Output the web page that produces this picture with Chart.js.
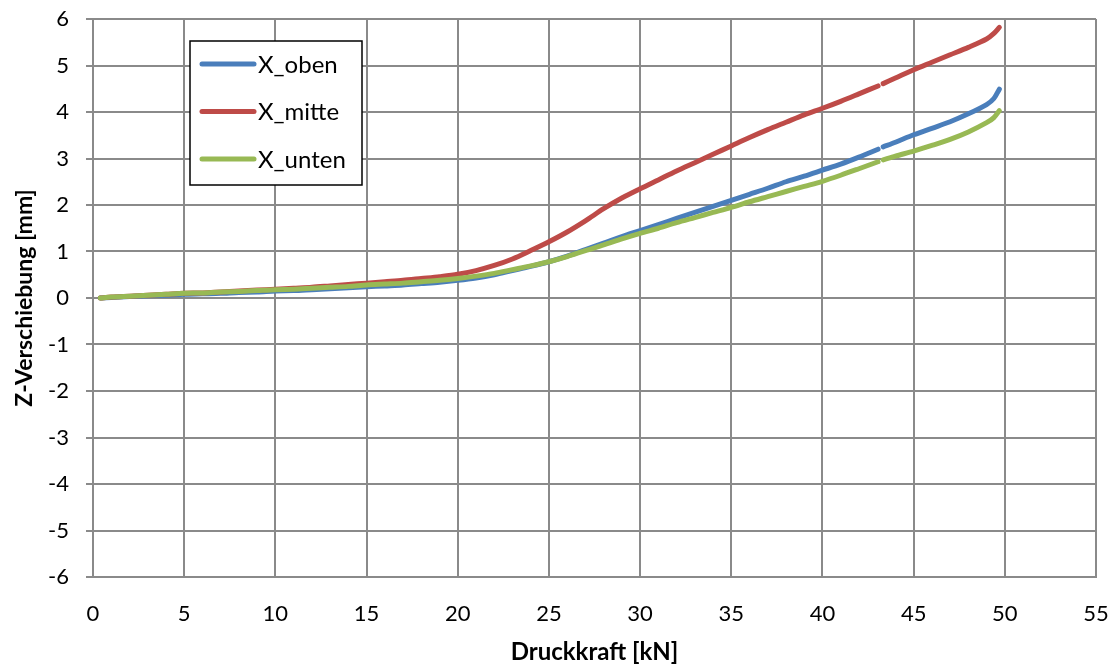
<!DOCTYPE html>
<html>
<head>
<meta charset="utf-8">
<script src="https://cdn.jsdelivr.net/npm/chart.js@4.4.1/dist/chart.umd.min.js"></script>
<style>
  html, body { margin: 0; padding: 0; background: #fff; }
  #wrap { width: 1116px; height: 668px; position: relative; }
</style>
</head>
<body>
<div id="wrap"><canvas id="c" width="1116" height="668"></canvas></div>
<script>
// Druckkraft [kN]; the null entry in each series marks the short recording gap near 43 kN
const force = [0.4, 1, 2, 3, 4, 5, 6, 7, 8, 9, 10, 11, 12, 13, 14, 15, 16, 17, 18, 19,
  20, 21, 22, 23, 24, 25, 26, 27, 28, 29, 30, 31, 32, 33, 34, 35, 36, 37, 38, 39,
  40, 41, 42, 43.05, 43.2, 43.33, 44, 45, 46, 47, 48, 49, 49.4, 49.7];

// Z-Verschiebung [mm]
const xOben = [0.00, 0.01, 0.03, 0.05, 0.06, 0.08, 0.09, 0.10, 0.12, 0.13, 0.15, 0.16, 0.18, 0.20, 0.22, 0.24, 0.26, 0.28, 0.31, 0.34,
  0.38, 0.43, 0.50, 0.59, 0.68, 0.78, 0.90, 1.04, 1.18, 1.32, 1.45, 1.58, 1.71, 1.84, 1.97, 2.10, 2.23, 2.36, 2.50, 2.62,
  2.75, 2.88, 3.03, 3.20, null, 3.25, 3.35, 3.51, 3.65, 3.79, 3.96, 4.16, 4.29, 4.49];

const xMitte = [0.00, 0.02, 0.04, 0.06, 0.08, 0.10, 0.11, 0.13, 0.15, 0.17, 0.19, 0.21, 0.23, 0.26, 0.29, 0.32, 0.35, 0.38, 0.42, 0.46,
  0.51, 0.59, 0.70, 0.84, 1.02, 1.21, 1.42, 1.66, 1.92, 2.15, 2.35, 2.54, 2.73, 2.91, 3.09, 3.27, 3.45, 3.62, 3.78, 3.94,
  4.08, 4.23, 4.39, 4.56, null, 4.61, 4.73, 4.91, 5.07, 5.23, 5.39, 5.57, 5.69, 5.82];

const xUnten = [0.00, 0.02, 0.04, 0.06, 0.08, 0.10, 0.11, 0.13, 0.14, 0.16, 0.18, 0.19, 0.21, 0.23, 0.25, 0.28, 0.30, 0.32, 0.35, 0.38,
  0.42, 0.47, 0.53, 0.61, 0.69, 0.78, 0.89, 1.02, 1.14, 1.27, 1.39, 1.50, 1.62, 1.73, 1.84, 1.95, 2.07, 2.18, 2.29, 2.40,
  2.51, 2.64, 2.78, 2.93, null, 2.97, 3.05, 3.16, 3.28, 3.41, 3.57, 3.77, 3.88, 4.03];

const seriesNames = ['X_oben', 'X_mitte', 'X_unten'];
const seriesColors = ['#4a7ebb', '#be4b48', '#98b954'];
const seriesValues = [xOben, xMitte, xUnten];

const xTickStep = 5, xMin = 0, xMax = 55;
const yTickStep = 1, yMin = -6, yMax = 6;

const FONT = 'Lato, "Open Sans", "DejaVu Sans", sans-serif';
const GRID = '#8a8a8a';

const toPoints = vals => force.map((f, i) => ({ x: f, y: vals[i] }));

// Boxed legend drawn inside the plot area, upper left
const boxLegend = {
  id: 'boxLegend',
  afterDraw(chart) {
    const ctx = chart.ctx;
    const x0 = 190, y0 = 41, w = 172, h = 144;
    ctx.save();
    ctx.fillStyle = '#ffffff';
    ctx.fillRect(x0, y0, w, h);
    ctx.strokeStyle = '#000000';
    ctx.lineWidth = 1.5;
    ctx.strokeRect(x0, y0, w, h);
    ctx.font = '24px ' + FONT;
    ctx.textBaseline = 'middle';
    chart.data.datasets.forEach((ds, i) => {
      const y = y0 + 23 + i * 47.5;
      ctx.strokeStyle = ds.borderColor;
      ctx.lineWidth = 5;
      ctx.lineCap = 'round';
      ctx.beginPath();
      ctx.moveTo(202, y);
      ctx.lineTo(254, y);
      ctx.stroke();
      ctx.fillStyle = '#000000';
      ctx.fillText(ds.label, 258, y + 1);
    });
    ctx.restore();
  }
};

new Chart(document.getElementById('c'), {
  type: 'line',
  data: {
    datasets: seriesNames.map((name, i) => ({
      label: name,
      data: toPoints(seriesValues[i]),
      borderColor: seriesColors[i],
      backgroundColor: seriesColors[i],
      borderWidth: 5,
      borderCapStyle: 'round',
      borderJoinStyle: 'round',
      pointRadius: 0,
      tension: 0.3,
      spanGaps: false,
      order: 3 - i
    }))
  },
  options: {
    responsive: false,
    animation: false,
    devicePixelRatio: 1,
    layout: { padding: { top: 19, right: 20, left: 0, bottom: 0 } },
    plugins: { legend: { display: false }, tooltip: { enabled: false } },
    scales: {
      x: {
        type: 'linear',
        min: xMin, max: xMax,
        ticks: { stepSize: xTickStep, color: '#000', font: { family: FONT, size: 22 }, padding: 24, maxRotation: 0 },
        grid: { color: GRID, lineWidth: 2, drawTicks: false },
        border: { color: GRID, width: 2 },
        title: { display: true, text: 'Druckkraft [kN]', color: '#000', font: { family: FONT, size: 24, weight: 'bold' }, padding: { top: 0, bottom: 1 } },
        afterFit(scale) { scale.height = 91; scale.paddingLeft = 0; scale.paddingRight = 0; }
      },
      y: {
        type: 'linear',
        min: yMin, max: yMax,
        ticks: { stepSize: yTickStep, color: '#000', font: { family: FONT, size: 22 }, padding: 17 },
        grid: { color: GRID, lineWidth: 2, tickLength: 7 },
        border: { color: GRID, width: 2 },
        title: { display: true, text: 'Z-Verschiebung [mm]', color: '#000', font: { family: FONT, size: 23, weight: 'bold' }, padding: { top: 11, bottom: 0 } },
        afterFit(scale) { scale.width = 93; scale.paddingTop = 0; scale.paddingBottom = 0; }
      }
    }
  },
  plugins: [boxLegend]
});
</script>
</body>
</html>
